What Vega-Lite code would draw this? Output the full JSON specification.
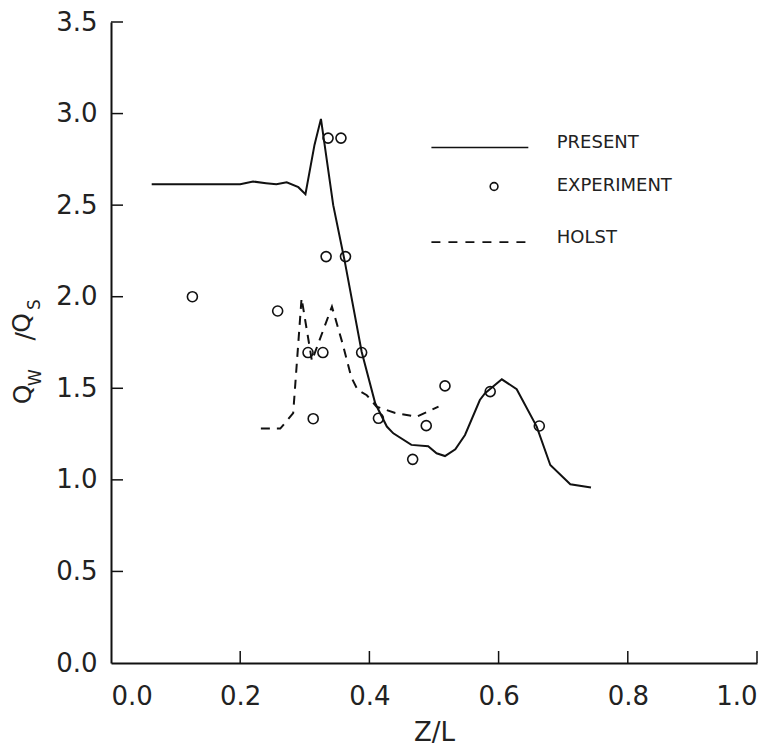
{
  "$schema": "https://vega.github.io/schema/vega-lite/v6.json",
  "width": 646,
  "height": 641,
  "autosize": "none",
  "padding": {"left": 111, "top": 22, "right": 25, "bottom": 88},
  "background": "white",
  "config": {
    "view": {"stroke": null},
    "axis": {
      "grid": false,
      "domainColor": "#111",
      "domainWidth": 2,
      "ticks": false,
      "tickSize": 0,
      "labelFont": "DejaVu Sans",
      "labelFontSize": 26,
      "labelColor": "#222",
      "titleFont": "DejaVu Sans",
      "titleFontSize": 26,
      "titleColor": "#222",
      "titleFontWeight": "normal"
    }
  },
  "datasets": {
    "present": [
      {"z": 0.063, "q": 2.614}, {"z": 0.1, "q": 2.614}, {"z": 0.15, "q": 2.614}, {"z": 0.2, "q": 2.614},
      {"z": 0.22, "q": 2.629}, {"z": 0.24, "q": 2.62}, {"z": 0.256, "q": 2.614}, {"z": 0.272, "q": 2.625},
      {"z": 0.29, "q": 2.598}, {"z": 0.301, "q": 2.56}, {"z": 0.315, "q": 2.829}, {"z": 0.325, "q": 2.971},
      {"z": 0.344, "q": 2.5}, {"z": 0.362, "q": 2.19}, {"z": 0.388, "q": 1.7}, {"z": 0.409, "q": 1.418},
      {"z": 0.427, "q": 1.291}, {"z": 0.437, "q": 1.254}, {"z": 0.465, "q": 1.191}, {"z": 0.491, "q": 1.183},
      {"z": 0.504, "q": 1.145}, {"z": 0.517, "q": 1.13}, {"z": 0.533, "q": 1.167}, {"z": 0.548, "q": 1.245},
      {"z": 0.571, "q": 1.436}, {"z": 0.579, "q": 1.473}, {"z": 0.605, "q": 1.549}, {"z": 0.628, "q": 1.495},
      {"z": 0.659, "q": 1.291}, {"z": 0.68, "q": 1.081}, {"z": 0.711, "q": 0.976}, {"z": 0.743, "q": 0.958}
    ],
    "holst": [
      {"z": 0.232, "q": 1.28}, {"z": 0.262, "q": 1.28}, {"z": 0.282, "q": 1.364}, {"z": 0.295, "q": 1.992},
      {"z": 0.311, "q": 1.65}, {"z": 0.342, "q": 1.946}, {"z": 0.358, "q": 1.75}, {"z": 0.372, "q": 1.56},
      {"z": 0.382, "q": 1.49}, {"z": 0.396, "q": 1.462}, {"z": 0.411, "q": 1.4}, {"z": 0.44, "q": 1.365},
      {"z": 0.473, "q": 1.345}, {"z": 0.507, "q": 1.4}
    ],
    "experiment": [
      {"z": 0.126, "q": 2.0}, {"z": 0.258, "q": 1.922}, {"z": 0.305, "q": 1.695}, {"z": 0.313, "q": 1.334},
      {"z": 0.328, "q": 1.695}, {"z": 0.333, "q": 2.219}, {"z": 0.336, "q": 2.866}, {"z": 0.356, "q": 2.866},
      {"z": 0.363, "q": 2.219}, {"z": 0.388, "q": 1.695}, {"z": 0.414, "q": 1.336}, {"z": 0.467, "q": 1.112},
      {"z": 0.488, "q": 1.296}, {"z": 0.517, "q": 1.513}, {"z": 0.587, "q": 1.482}, {"z": 0.663, "q": 1.294}
    ],
    "xticks": [{"z": 0.2}, {"z": 0.4}, {"z": 0.6}, {"z": 0.8}, {"z": 1.0}],
    "yticks": [{"q": 0.5}, {"q": 1.0}, {"q": 1.5}, {"q": 2.0}, {"q": 2.5}, {"q": 3.0}, {"q": 3.5}],
    "legendSolid": [{"z": 0.496, "q": 2.815}, {"z": 0.646, "q": 2.815}],
    "legendDash": [{"z": 0.496, "q": 2.298}, {"z": 0.646, "q": 2.298}],
    "legendPoint": [{"z": 0.593, "q": 2.602}],
    "legendText": [
      {"label": "PRESENT", "z": 0.69, "q": 2.842},
      {"label": "EXPERIMENT", "z": 0.69, "q": 2.602},
      {"label": "HOLST", "z": 0.69, "q": 2.323}
    ],
    "ytitleMain": [
      {"t": "Q", "z": -0.1358, "q": 1.466},
      {"t": "/", "z": -0.1331, "q": 1.784},
      {"t": "Q", "z": -0.1382, "q": 1.857}
    ],
    "ytitleSub": [
      {"t": "W", "z": -0.1167, "q": 1.559},
      {"t": "S", "z": -0.1176, "q": 1.957}
    ]
  },
  "layer": [
    {
      "data": {"name": "present"},
      "mark": {"type": "line", "color": "#111", "strokeWidth": 2},
      "encoding": {
        "x": {"field": "z", "type": "quantitative", "scale": {"domain": [0, 1], "nice": false},
              "axis": {"values": [0, 0.2, 0.4, 0.6, 0.8, 1.0], "format": ".1f", "title": "Z/L", "labelPadding": 20, "titlePadding": 10}},
        "y": {"field": "q", "type": "quantitative", "scale": {"domain": [0, 3.5], "nice": false},
              "axis": {"values": [0, 0.5, 1, 1.5, 2, 2.5, 3, 3.5], "format": ".1f", "title": null, "labelPadding": 14}},
        "order": {"field": "z", "type": "quantitative"}
      }
    },
    {
      "data": {"name": "xticks"},
      "mark": {"type": "rule", "color": "#111", "strokeWidth": 1.5},
      "encoding": {
        "x": {"field": "z", "type": "quantitative"},
        "y": {"datum": 0},
        "y2": {"datum": 0.0655}
      }
    },
    {
      "data": {"name": "yticks"},
      "mark": {"type": "rule", "color": "#111", "strokeWidth": 1.5},
      "encoding": {
        "y": {"field": "q", "type": "quantitative"},
        "x": {"datum": 0},
        "x2": {"datum": 0.0186}
      }
    },
    {
      "data": {"name": "holst"},
      "mark": {"type": "line", "color": "#111", "strokeWidth": 2, "strokeDash": [9, 7]},
      "encoding": {
        "x": {"field": "z", "type": "quantitative"},
        "y": {"field": "q", "type": "quantitative"},
        "order": {"field": "z", "type": "quantitative"}
      }
    },
    {
      "data": {"name": "experiment"},
      "mark": {"type": "point", "shape": "circle", "filled": false, "color": "#111", "strokeWidth": 1.6, "size": 100, "opacity": 1},
      "encoding": {
        "x": {"field": "z", "type": "quantitative"},
        "y": {"field": "q", "type": "quantitative"}
      }
    },
    {
      "data": {"name": "legendSolid"},
      "mark": {"type": "line", "color": "#111", "strokeWidth": 1.6},
      "encoding": {
        "x": {"field": "z", "type": "quantitative"},
        "y": {"field": "q", "type": "quantitative"}
      }
    },
    {
      "data": {"name": "legendDash"},
      "mark": {"type": "line", "color": "#111", "strokeWidth": 1.6, "strokeDash": [9, 8]},
      "encoding": {
        "x": {"field": "z", "type": "quantitative"},
        "y": {"field": "q", "type": "quantitative"}
      }
    },
    {
      "data": {"name": "legendPoint"},
      "mark": {"type": "point", "shape": "circle", "filled": false, "color": "#111", "strokeWidth": 1.6, "size": 60, "opacity": 1},
      "encoding": {
        "x": {"field": "z", "type": "quantitative"},
        "y": {"field": "q", "type": "quantitative"}
      }
    },
    {
      "data": {"name": "legendText"},
      "mark": {"type": "text", "align": "left", "baseline": "middle", "font": "DejaVu Sans", "fontSize": 18, "color": "#222"},
      "encoding": {
        "x": {"field": "z", "type": "quantitative"},
        "y": {"field": "q", "type": "quantitative"},
        "text": {"field": "label"}
      }
    },
    {
      "data": {"name": "ytitleMain"},
      "mark": {"type": "text", "align": "center", "baseline": "middle", "angle": 270, "font": "DejaVu Sans", "fontSize": 25, "color": "#222"},
      "encoding": {
        "x": {"field": "z", "type": "quantitative"},
        "y": {"field": "q", "type": "quantitative"},
        "text": {"field": "t"}
      }
    },
    {
      "data": {"name": "ytitleSub"},
      "mark": {"type": "text", "align": "center", "baseline": "middle", "angle": 270, "font": "DejaVu Sans", "fontSize": 17, "color": "#222"},
      "encoding": {
        "x": {"field": "z", "type": "quantitative"},
        "y": {"field": "q", "type": "quantitative"},
        "text": {"field": "t"}
      }
    }
  ]
}
